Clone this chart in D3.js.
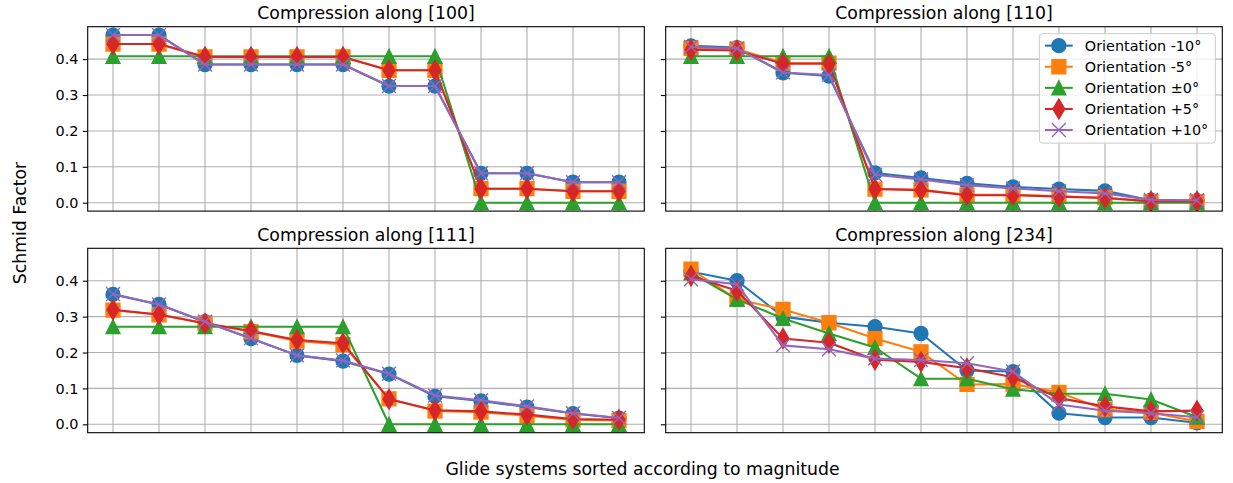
<!DOCTYPE html>
<html>
<head>
<meta charset="utf-8">
<script src="https://cdn.jsdelivr.net/npm/d3@7"></script>
<style>
  body { margin: 0; background: #fff; }
  svg { font-family: "DejaVu Sans", sans-serif; }
</style>
</head>
<body>
<svg class="chart" width="1233" height="483"></svg>
<script>
"use strict";

// glide systems (x positions) and tick values
var glideSystems = [0, 1, 2, 3, 4, 5, 6, 7, 8, 9, 10, 11];
var yTicks = [0.0, 0.1, 0.2, 0.3, 0.4];
var yTickLabels = ['0.0', '0.1', '0.2', '0.3', '0.4'];

var panelTitles = ['Compression along [100]', 'Compression along [110]',
  'Compression along [111]', 'Compression along [234]'];
var seriesNames = ['Orientation -10°', 'Orientation -5°', 'Orientation \u00b10°',
  'Orientation +5°', 'Orientation +10°'];

// Schmid factors, one array per panel and orientation
var sf100_m10 = [0.467, 0.467, 0.385, 0.385, 0.385, 0.385, 0.325, 0.325, 0.082, 0.082, 0.057, 0.057];
var sf100_m5 = [0.442, 0.442, 0.406, 0.406, 0.406, 0.406, 0.369, 0.369, 0.039, 0.039, 0.032, 0.032];
var sf100_z0 = [0.408, 0.408, 0.408, 0.408, 0.408, 0.408, 0.408, 0.408, 0.0, 0.0, 0.0, 0.0];
var sf100_p5 = [0.442, 0.442, 0.406, 0.406, 0.406, 0.406, 0.369, 0.369, 0.039, 0.039, 0.032, 0.032];
var sf100_p10 = [0.467, 0.467, 0.385, 0.385, 0.385, 0.385, 0.325, 0.325, 0.082, 0.082, 0.057, 0.057];

var sf110_m10 = [0.437, 0.432, 0.362, 0.353, 0.083, 0.069, 0.054, 0.044, 0.038, 0.033, 0.007, 0.006];
var sf110_m5 = [0.430, 0.428, 0.389, 0.389, 0.038, 0.036, 0.022, 0.022, 0.018, 0.014, 0.003, 0.003];
var sf110_z0 = [0.408, 0.408, 0.408, 0.408, 0.0, 0.0, 0.0, 0.0, 0.0, 0.0, 0.0, 0.0];
var sf110_p5 = [0.426, 0.424, 0.387, 0.387, 0.038, 0.035, 0.021, 0.021, 0.017, 0.013, 0.004, 0.004];
var sf110_p10 = [0.434, 0.430, 0.363, 0.356, 0.078, 0.065, 0.049, 0.040, 0.032, 0.026, 0.008, 0.007];

var sf111_m10 = [0.362, 0.334, 0.286, 0.239, 0.192, 0.176, 0.140, 0.078, 0.065, 0.048, 0.030, 0.017];
var sf111_m5 = [0.318, 0.305, 0.282, 0.258, 0.232, 0.222, 0.071, 0.037, 0.034, 0.024, 0.012, 0.011];
var sf111_z0 = [0.272, 0.272, 0.272, 0.272, 0.272, 0.272, 0.0, 0.0, 0.0, 0.0, 0.0, 0.0];
var sf111_p5 = [0.319, 0.306, 0.281, 0.260, 0.235, 0.226, 0.070, 0.039, 0.036, 0.027, 0.015, 0.013];
var sf111_p10 = [0.363, 0.334, 0.286, 0.240, 0.192, 0.178, 0.141, 0.080, 0.067, 0.050, 0.031, 0.018];

var sf234_m10 = [0.425, 0.400, 0.300, 0.283, 0.272, 0.253, 0.150, 0.147, 0.031, 0.019, 0.019, 0.004];
var sf234_m5 = [0.432, 0.348, 0.320, 0.283, 0.239, 0.202, 0.111, 0.112, 0.089, 0.041, 0.033, 0.008];
var sf234_z0 = [0.422, 0.348, 0.295, 0.253, 0.214, 0.127, 0.127, 0.098, 0.085, 0.085, 0.069, 0.020];
var sf234_p5 = [0.413, 0.372, 0.239, 0.227, 0.180, 0.174, 0.156, 0.131, 0.073, 0.050, 0.036, 0.038];
var sf234_p10 = [0.404, 0.390, 0.220, 0.209, 0.183, 0.179, 0.170, 0.147, 0.055, 0.038, 0.031, 0.020];

var colors = ['#1f77b4', '#ff7f0e', '#2ca02c', '#d62728', '#9467bd'];
var markers = ['circle', 'square', 'triangle', 'diamond', 'x'];

var panels = [
  {'title': panelTitles[0], 'series': [sf100_m10, sf100_m5, sf100_z0, sf100_p5, sf100_p10],
    'x': 87.7, 'y': 26.7, 'labels': true},
  {'title': panelTitles[1], 'series': [sf110_m10, sf110_m5, sf110_z0, sf110_p5, sf110_p10],
    'x': 665.7, 'y': 26.7, 'labels': false, 'legend': true},
  {'title': panelTitles[2], 'series': [sf111_m10, sf111_m5, sf111_z0, sf111_p5, sf111_p10],
    'x': 87.7, 'y': 248.3, 'labels': true},
  {'title': panelTitles[3], 'series': [sf234_m10, sf234_m5, sf234_z0, sf234_p5, sf234_p10],
    'x': 665.7, 'y': 248.3, 'labels': false}
];

var W = 556.6, H = 184.4;
var MS = 13.9;  // marker size in px
var grid = '#b0b0b0';
var smallFont = '14.4px', bigFont = '17.3px';

function markerPath(type, s) {
  var h = s / 2;
  if (type === 'triangle') {
    return 'M0,' + (-h) + 'L' + (-h) + ',' + h + 'L' + h + ',' + h + 'Z';
  }
  if (type === 'diamond') {
    var dy = 0.7071 * s, dx = 0.4243 * s;
    return 'M0,' + (-dy) + 'L' + dx + ',0L0,' + dy + 'L' + (-dx) + ',0Z';
  }
  if (type === 'square') {
    return 'M' + (-h) + ',' + (-h) + 'h' + s + 'v' + s + 'h' + (-s) + 'Z';
  }
  if (type === 'x') {
    return 'M' + (-h) + ',' + (-h) + 'L' + h + ',' + h + 'M' + (-h) + ',' + h + 'L' + h + ',' + (-h);
  }
  return d3.symbol(d3.symbolCircle, Math.PI * h * h)();
}

function drawMarkers(g, type, color) {
  g.attr('d', markerPath(type, MS))
    .style('fill', type === 'x' ? 'none' : color)
    .style('stroke', color)
    .style('stroke-width', 1.39);
}

var chart = d3.select('.chart');
chart.append('rect').attr('width', 1233).attr('height', 483).style('fill', '#fff');

panels.forEach(function (p, pi) {
  var x = d3.scaleLinear().domain([-0.55, 11.55]).range([0, W]);
  var y = d3.scaleLinear().domain([-0.02335, 0.49035]).range([H, 0]);
  var g = chart.append('g').attr('transform', 'translate(' + p.x + ',' + p.y + ')');

  chart.append('clipPath').attr('id', 'clip' + pi)
    .append('rect').attr('width', W).attr('height', H);

  // grid
  g.selectAll('.vgrid').data(glideSystems).enter().append('line')
    .attr('x1', function (d) { return x(d); })
    .attr('x2', function (d) { return x(d); })
    .attr('y1', 0).attr('y2', H)
    .style('stroke', grid).style('stroke-width', 1.1);
  g.selectAll('.hgrid').data(yTicks).enter().append('line')
    .attr('y1', function (d) { return y(d); })
    .attr('y2', function (d) { return y(d); })
    .attr('x1', 0).attr('x2', W)
    .style('stroke', grid).style('stroke-width', 1.1);

  // y axis ticks (labels only on the left column)
  var axis = d3.axisLeft(y).tickValues(yTicks).tickSize(4.9).tickPadding(4.4)
    .tickFormat(function (d, i) { return p.labels ? yTickLabels[i] : ''; });
  var ag = g.append('g').call(axis);
  ag.select('.domain').remove();
  ag.selectAll('line').style('stroke', '#000').style('stroke-width', 1.1);
  ag.selectAll('text').style('font-family', 'DejaVu Sans').style('font-size', smallFont)
    .style('fill', '#000');

  // series: line then markers, in order
  var plot = g.append('g').attr('clip-path', 'url(#clip' + pi + ')');
  var line = d3.line()
    .x(function (d, i) { return x(glideSystems[i]); })
    .y(function (d) { return y(d); });
  p.series.forEach(function (vals, si) {
    plot.append('path').datum(vals).attr('d', line)
      .style('fill', 'none').style('stroke', colors[si]).style('stroke-width', 2.08)
      .style('stroke-linejoin', 'round').style('stroke-linecap', 'square');
    plot.selectAll('.m' + si).data(vals).enter().append('path')
      .attr('transform', function (d, i) {
        return 'translate(' + x(glideSystems[i]) + ',' + y(d) + ')';
      })
      .call(drawMarkers, markers[si], colors[si]);
  });

  // frame
  g.append('rect').attr('width', W).attr('height', H)
    .style('fill', 'none').style('stroke', '#000').style('stroke-width', 1.1);

  g.append('text').attr('x', W / 2).attr('y', -7.5)
    .attr('text-anchor', 'middle').style('font-size', bigFont).text(p.title);

  if (p.legend) {
    var lx = W - 6.95, ly = 6.95;
    var lw = 176, lh = 109.5;
    var leg = g.append('g').attr('transform', 'translate(' + (lx - lw) + ',' + ly + ')');
    leg.append('rect').attr('width', lw).attr('height', lh).attr('rx', 3)
      .style('fill', '#fff').style('fill-opacity', 0.8)
      .style('stroke', '#cccccc').style('stroke-width', 1);
    seriesNames.forEach(function (name, si) {
      var cy = 12 + si * 21.1;
      leg.append('line').attr('x1', 5.6).attr('x2', 33.4).attr('y1', cy).attr('y2', cy)
        .style('stroke', colors[si]).style('stroke-width', 2.08);
      leg.append('path').attr('transform', 'translate(19.5,' + cy + ')')
        .call(drawMarkers, markers[si], colors[si]);
      leg.append('text').attr('x', 45.5).attr('y', cy).attr('dy', '0.36em')
        .style('font-size', smallFont).text(name);
    });
  }
});

chart.append('text').attr('x', 642.5).attr('y', 474.5).attr('text-anchor', 'middle')
  .style('font-size', bigFont).text('Glide systems sorted according to magnitude');
chart.append('text').attr('transform', 'translate(25.8,223) rotate(-90)')
  .attr('text-anchor', 'middle').style('font-size', bigFont).text('Schmid Factor');
</script>
</body>
</html>
